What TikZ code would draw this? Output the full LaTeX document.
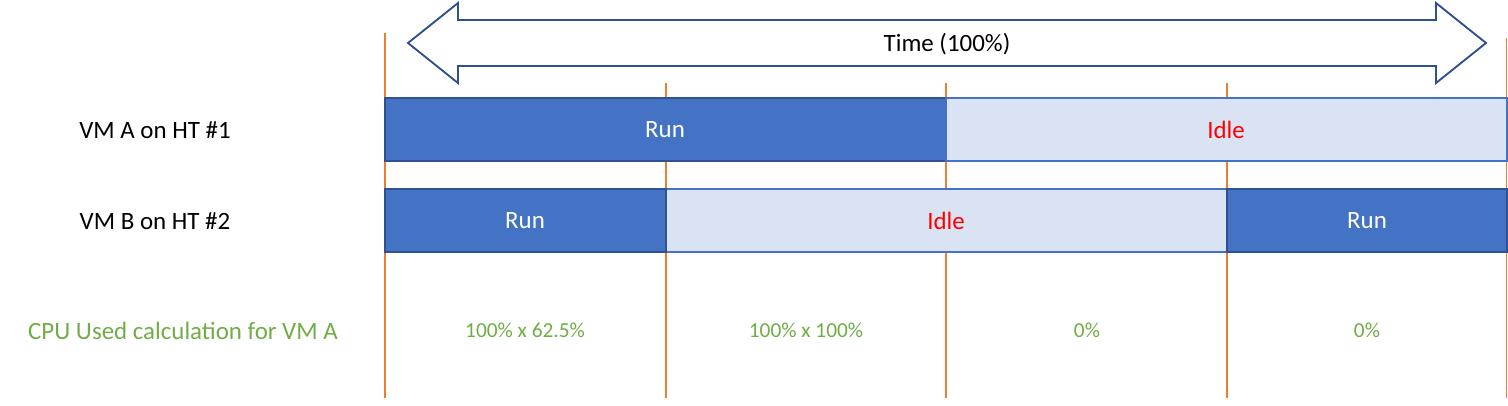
\documentclass[tikz,border=0pt]{standalone}
\usepackage{fontspec}
\setmainfont{Carlito}
\definecolor{runfill}{HTML}{4472C4}
\definecolor{runedge}{HTML}{2F528F}
\definecolor{idlefill}{HTML}{DAE3F3}
\definecolor{idleedge}{HTML}{4472C4}
\definecolor{tick}{HTML}{ED7D31}
\definecolor{calc}{HTML}{70AD47}
\definecolor{idlered}{HTML}{FF0000}
\begin{document}
\begin{tikzpicture}[x=0.75pt,y=-0.75pt,
  runbar/.style={fill=runfill,draw=runedge,line width=1.5pt},
  idlebar/.style={fill=idlefill,draw=idleedge,line width=1.5pt},
  tickline/.style={draw=tick,line width=1.4pt},
  rowlabel/.style={font=\fontsize{18.7}{21}\selectfont,text=black},
  runtext/.style={font=\fontsize{18.7}{21}\selectfont,text=white},
  idletext/.style={font=\fontsize{18.7}{21}\selectfont,text=idlered},
  calclabel/.style={font=\fontsize{18.7}{21}\selectfont,text=calc},
  calcval/.style={font=\fontsize{16}{18}\selectfont,text=calc},
  timearrow/.style={fill=white,draw=runedge,line width=1.4pt,line join=miter}]
\useasboundingbox (0,0) rectangle (1508,405);
% orange time ticks
\draw[tickline] (385,33) -- (385,398);
\draw[tickline] (666,83) -- (666,398);
\draw[tickline] (946,83) -- (946,398);
\draw[tickline] (1227,83) -- (1227,398);
\draw[tickline] (1506.5,38) -- (1506.5,398);
% double arrow
\draw[timearrow] (408,43) -- (458,3) -- (458,20) -- (1436,20) -- (1436,3) -- (1486,43)
  -- (1436,83) -- (1436,66) -- (458,66) -- (458,83) -- cycle;
\node[rowlabel] (time) at (947,44) {Time (100\%)};
% row A
\draw[runbar] (385,98) rectangle (946,161);
\draw[idlebar] (946,98) rectangle (1507,161);
\node[runtext] (arun) at (665,130) {Run};
\node[idletext] (aidle) at (1226,130) {Idle};
% row B
\draw[idlebar] (666,189) rectangle (1227,252);
\draw[runbar] (385,189) rectangle (666,252);
\draw[runbar] (1227,189) rectangle (1507,252);
\node[runtext] (brun1) at (525,221) {Run};
\node[idletext] (bidle) at (946,221) {Idle};
\node[runtext] (brun2) at (1367,221) {Run};
% labels
\node[rowlabel] (vma) at (155,130) {VM A on HT \#1};
\node[rowlabel] (vmb) at (155,221) {VM B on HT \#2};
\node[calclabel] (cpu) at (183,331) {CPU Used calculation for VM A};
\node[calcval] (c1) at (525,330) {100\% x 62.5\%};
\node[calcval] (c2) at (806,330) {100\% x 100\%};
\node[calcval] (c3) at (1087,330) {0\%};
\node[calcval] (c4) at (1367,330) {0\%};
\end{tikzpicture}
\end{document}
